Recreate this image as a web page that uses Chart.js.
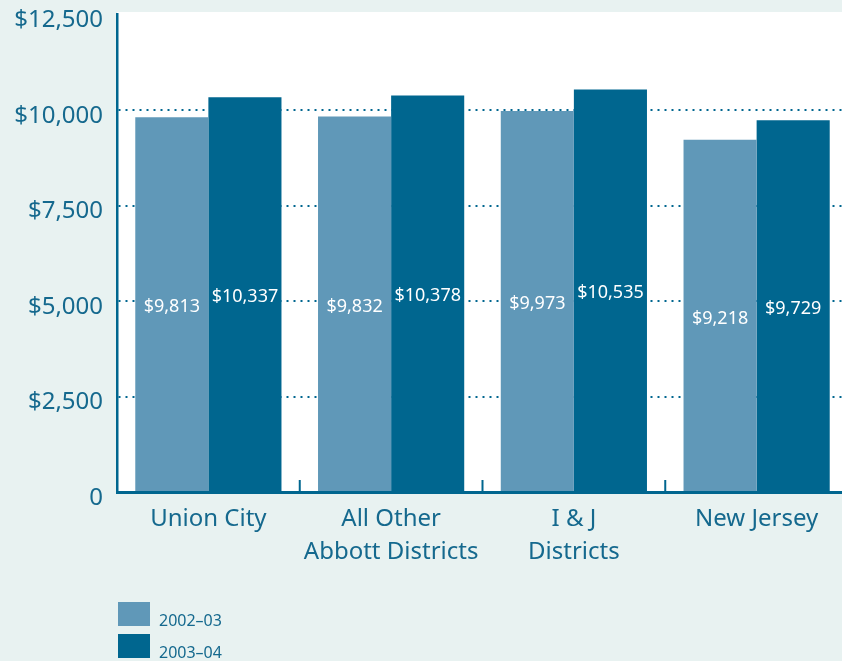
<!DOCTYPE html>
<html><head><meta charset="utf-8">
<script src="https://cdn.jsdelivr.net/npm/chart.js@4/dist/chart.umd.min.js"></script>
<style>
html,body{margin:0;padding:0;background:#e8f2f1;overflow:hidden;width:842px;height:661px;}
#wrap{position:absolute;left:0;top:0;width:850px;height:661px;}
.leg{position:absolute;left:118px;width:32px;height:24px;}
.legt{position:absolute;left:159px;font:16px "Noto Sans";color:#15698e;line-height:16px;}
</style></head><body>
<div id="wrap"><canvas id="c" width="850" height="661"></canvas></div>
<div class="leg" style="top:602px;background:#6098b8"></div>
<div class="legt" style="top:612px">2002–03</div>
<div class="leg" style="top:634px;background:#00668f"></div>
<div class="legt" style="top:644px">2003–04</div>
<script>
const categories = [["Union City"], ["All Other", "Abbott Districts"], ["I & J", "Districts"], ["New Jersey"]];
const seriesNames = ["2002–03", "2003–04"];
const values2002 = [9813, 9832, 9973, 9218];
const values2003 = [10337, 10378, 10535, 9729];
const yTicks = [0, 2500, 5000, 7500, 10000, 12500];

const LIGHT = '#6098b8', DARK = '#00668f', AXIS = '#00668f', TEXT = '#15698e';
const FONT = '"Noto Sans", sans-serif';

const plotBg = {
  id: 'plotBg',
  beforeDraw(chart) {
    const {ctx, chartArea: a} = chart;
    ctx.save();
    ctx.fillStyle = '#ffffff';
    ctx.fillRect(a.left, a.top - 2.5, chart.width - a.left, a.bottom - a.top + 2.5);
    ctx.restore();
  }
};

const extras = {
  id: 'extras',
  afterDraw(chart) {
    const {ctx} = chart;
    const xs = chart.scales.x, ys = chart.scales.y;
    const base = ys.getPixelForValue(0);
    ctx.save();
    ctx.strokeStyle = AXIS; ctx.lineWidth = 2;
    for (let i = 0; i < categories.length - 1; i++) {
      const bx = (xs.getPixelForValue(i) + xs.getPixelForValue(i + 1)) / 2;
      ctx.beginPath(); ctx.moveTo(bx, base); ctx.lineTo(bx, base - 12); ctx.stroke();
    }
    ctx.fillStyle = '#ffffff';
    ctx.font = '18px ' + FONT;
    ctx.textAlign = 'center'; ctx.textBaseline = 'middle';
    chart.data.datasets.forEach((ds, di) => {
      const meta = chart.getDatasetMeta(di);
      meta.data.forEach((bar, i) => {
        const y = (bar.y + bar.base) / 2;
        ctx.fillText('$' + ds.data[i].toLocaleString('en-US'), bar.x, y + 3);
      });
    });
    ctx.restore();
  }
};

new Chart(document.getElementById('c'), {
  type: 'bar',
  data: {
    labels: categories,
    datasets: [
      {label: seriesNames[0], data: values2002, backgroundColor: LIGHT, barPercentage: 1, categoryPercentage: 0.8},
      {label: seriesNames[1], data: values2003, backgroundColor: DARK, barPercentage: 1, categoryPercentage: 0.8}
    ]
  },
  options: {
    responsive: false,
    animation: false,
    events: [],
    layout: {padding: {top: 14.5, right: 2, left: 0, bottom: 0}},
    plugins: {legend: {display: false}, tooltip: {enabled: false}},
    scales: {
      x: {
        grid: {display: false},
        border: {display: true, color: AXIS, width: 3, z: 1},
        ticks: {color: TEXT, font: {family: FONT, size: 24, lineHeight: 1.375}, padding: 3, maxRotation: 0, autoSkip: false},
        afterFit(s) { s.height = 169; s.paddingLeft = 0; s.paddingRight = 0; }
      },
      y: {
        min: 0, max: 12500,
        afterBuildTicks(s) { s.ticks = yTicks.map(v => ({value: v})); },
        grid: {
          drawTicks: false,
          color: ctx => (ctx.tick && (ctx.tick.value === 0 || ctx.tick.value === 12500)) ? 'rgba(0,0,0,0)' : AXIS,
          lineWidth: 2
        },
        border: {display: true, color: AXIS, width: 2.5, z: 1, dash: [2, 5]},
        ticks: {
          color: TEXT, font: {family: FONT, size: 24}, padding: 14, labelOffset: 6,
          callback: v => v === 0 ? '0' : '$' + v.toLocaleString('en-US')
        },
        afterFit(s) { s.width = 117; s.paddingTop = 0; s.paddingBottom = 0; }
      }
    }
  },
  plugins: [plotBg, extras]
});
</script>
</body></html>
